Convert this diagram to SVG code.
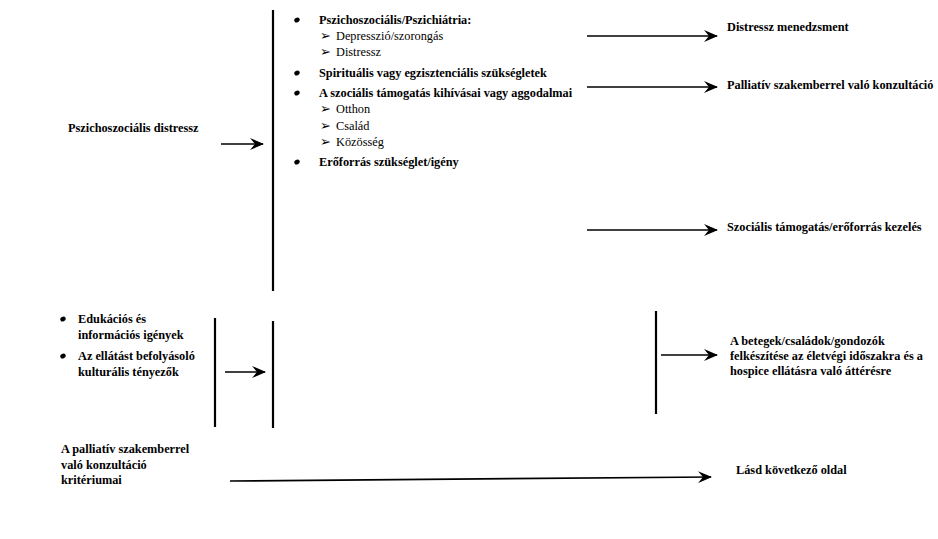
<svg xmlns="http://www.w3.org/2000/svg" width="938" height="539" viewBox="0 0 938 539">
<style>
text{font-family:"Liberation Serif","Times New Roman",serif;font-size:12.3px;fill:#000}
.b{font-weight:bold}
.ar2{font-size:13px}
.ln{stroke:#000;stroke-width:2.2;fill:none}
.ar{stroke:#000;stroke-width:1.7;fill:none;marker-end:url(#ah)}
</style>
<defs>
<marker id="ah" viewBox="0 0 14 12" refX="13" refY="6" markerWidth="14" markerHeight="12" markerUnits="userSpaceOnUse" orient="auto">
<path d="M0,0 L14,6 L0,12 L5,6 Z" fill="#000"/>
</marker>
</defs>
<rect width="938" height="539" fill="#fff"/>
<g id="connectors">
<line class="ln" x1="273" y1="10" x2="273" y2="291"/>
<line class="ln" x1="215" y1="318" x2="215" y2="427"/>
<line class="ln" x1="273" y1="321" x2="273" y2="428"/>
<line class="ln" x1="656" y1="311" x2="656" y2="414"/>
<line class="ar" x1="221" y1="144" x2="263" y2="144"/>
<line class="ar" x1="587" y1="36" x2="717" y2="36"/>
<line class="ar" x1="587" y1="87" x2="717" y2="87"/>
<line class="ar" x1="587" y1="230" x2="717" y2="230"/>
<line class="ar" x1="225" y1="372" x2="265" y2="372"/>
<line class="ar" x1="661" y1="355" x2="717" y2="355"/>
<line class="ar" x1="230" y1="481" x2="711" y2="477"/>
</g>
<g id="n-pszichoszocialis-distressz">
<text class="b" x="68" y="132">Pszichoszociális distressz</text>
</g>
<g id="n-lista">
<ellipse cx="297" cy="20" rx="2.8" ry="2.3" transform="rotate(-30 297 20)"/>
<text class="b" x="319" y="24">Pszichoszociális/Pszichiátria:</text>
<text class="ar2" x="320" y="40">➢</text><text x="336" y="40">Depresszió/szorongás</text>
<text class="ar2" x="320" y="56">➢</text><text x="336" y="56">Distressz</text>
<ellipse cx="297" cy="73" rx="2.8" ry="2.3" transform="rotate(-30 297 73)"/>
<text class="b" x="319" y="77">Spirituális vagy egzisztenciális szükségletek</text>
<ellipse cx="297" cy="93" rx="2.8" ry="2.3" transform="rotate(-30 297 93)"/>
<text class="b" x="319" y="97">A szociális támogatás kihívásai vagy aggodalmai</text>
<text class="ar2" x="320" y="113">➢</text><text x="336" y="113">Otthon</text>
<text class="ar2" x="320" y="130">➢</text><text x="336" y="130">Család</text>
<text class="ar2" x="320" y="146">➢</text><text x="336" y="146">Közösség</text>
<ellipse cx="297" cy="162" rx="2.8" ry="2.3" transform="rotate(-30 297 162)"/>
<text class="b" x="319" y="166">Erőforrás szükséglet/igény</text>
</g>
<g id="n-distressz-menedzsment">
<text class="b" x="727" y="31">Distressz menedzsment</text>
</g>
<g id="n-palliativ-konzultacio">
<text class="b" x="727" y="89">Palliatív szakemberrel való konzultáció</text>
</g>
<g id="n-szocialis-tamogatas">
<text class="b" x="727" y="231">Szociális támogatás/erőforrás kezelés</text>
</g>
<g id="n-edukacio">
<ellipse cx="63" cy="319" rx="2.8" ry="2.3" transform="rotate(-30 63 319)"/>
<text class="b" x="78" y="323">Edukációs és</text>
<text class="b" x="78" y="339">információs igények</text>
<ellipse cx="63" cy="356" rx="2.8" ry="2.3" transform="rotate(-30 63 356)"/>
<text class="b" x="78" y="360">Az ellátást befolyásoló</text>
<text class="b" x="78" y="376">kulturális tényezők</text>
</g>
<g id="n-felkeszites">
<text class="b" x="730" y="345">A betegek/családok/gondozók</text>
<text class="b" x="730" y="360">felkészítése az életvégi időszakra és a</text>
<text class="b" x="730" y="375">hospice ellátásra való áttérésre</text>
</g>
<g id="n-kriteriumok">
<text class="b" x="61" y="453">A palliatív szakemberrel</text>
<text class="b" x="61" y="469">való konzultáció</text>
<text class="b" x="61" y="484">kritériumai</text>
</g>
<g id="n-lasd">
<text class="b" x="736" y="474">Lásd következő oldal</text>
</g>
</svg>
